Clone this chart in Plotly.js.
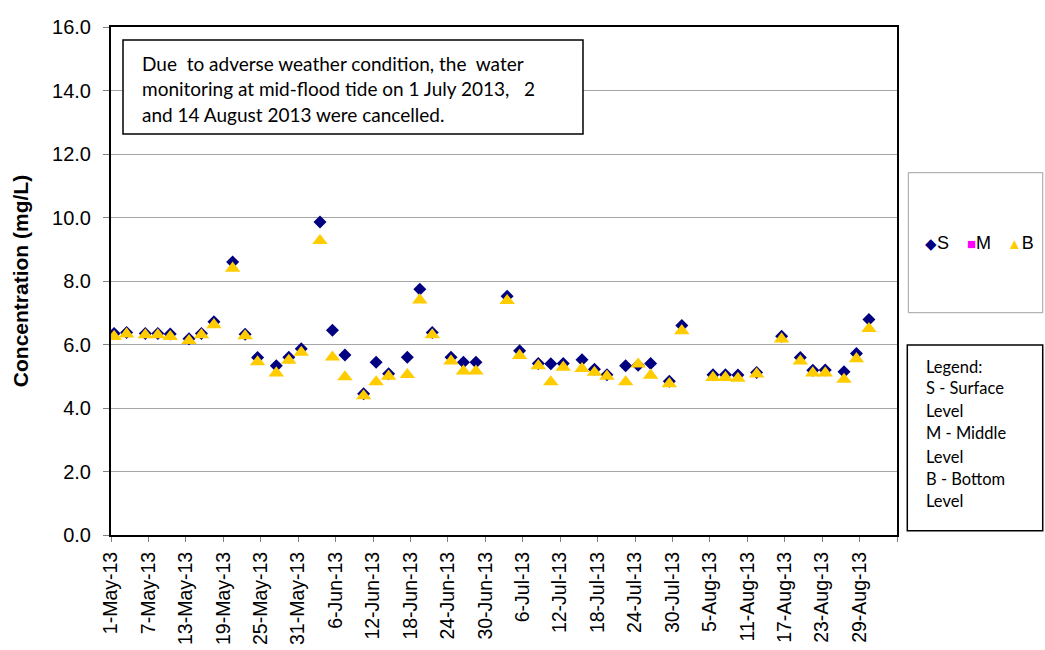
<!DOCTYPE html>
<html>
<head>
<meta charset="utf-8">
<script src="https://cdn.plot.ly/plotly-3.0.1.min.js"></script>
<style>html,body{margin:0;padding:0;background:#fff;}#chart{width:1045px;height:650px;}</style>
</head>
<body>
<div id="chart"></div>
<script>
// Sampling dates (mid-flood tide)
const dates = [
  '2013-05-01','2013-05-03','2013-05-06','2013-05-08','2013-05-10','2013-05-13','2013-05-15','2013-05-17',
  '2013-05-20','2013-05-22','2013-05-24','2013-05-27','2013-05-29','2013-05-31','2013-06-03','2013-06-05',
  '2013-06-07','2013-06-10','2013-06-12','2013-06-14','2013-06-17','2013-06-19','2013-06-21','2013-06-24',
  '2013-06-26','2013-06-28','2013-07-03','2013-07-05','2013-07-08','2013-07-10','2013-07-12','2013-07-15',
  '2013-07-17','2013-07-19','2013-07-22','2013-07-24','2013-07-26','2013-07-29','2013-07-31','2013-08-05',
  '2013-08-07','2013-08-09','2013-08-12','2013-08-16','2013-08-19','2013-08-21','2013-08-23','2013-08-26',
  '2013-08-28','2013-08-30'
];
// S - Surface level
const surface = [
  6.35, 6.38, 6.35, 6.35, 6.33, 6.18, 6.35, 6.72,
  8.60, 6.32, 5.59, 5.33, 5.60, 5.87, 9.86, 6.45,
  5.67, 4.45, 5.44, 5.08, 5.60, 7.74, 6.38, 5.60,
  5.44, 5.44, 7.52, 5.80, 5.40, 5.39, 5.40, 5.52,
  5.22, 5.05, 5.33, 5.35, 5.40, 4.84, 6.60, 5.05,
  5.05, 5.04, 5.12, 6.26, 5.59, 5.19, 5.20, 5.14,
  5.72, 6.79
];
// M - Middle level (no data)
const middle = [];
// B - Bottom level
const bottom = [
  6.25, 6.33, 6.30, 6.30, 6.25, 6.12, 6.30, 6.62,
  8.40, 6.27, 5.45, 5.10, 5.50, 5.75, 9.27, 5.60,
  4.98, 4.38, 4.82, 5.00, 5.05, 7.40, 6.30, 5.48,
  5.16, 5.16, 7.38, 5.65, 5.33, 4.82, 5.28, 5.24,
  5.12, 5.00, 4.82, 5.38, 5.03, 4.76, 6.43, 4.96,
  4.96, 4.93, 5.07, 6.17, 5.48, 5.10, 5.10, 4.90,
  5.55, 6.50
];
// x-axis ticks
const tickDates = [
  '2013-05-01','2013-05-07','2013-05-13','2013-05-19','2013-05-25','2013-05-31','2013-06-06','2013-06-12',
  '2013-06-18','2013-06-24','2013-06-30','2013-07-06','2013-07-12','2013-07-18','2013-07-24','2013-07-30',
  '2013-08-05','2013-08-11','2013-08-17','2013-08-23','2013-08-29','2013-09-04'
];
const tickLabels = [
  '1-May-13','7-May-13','13-May-13','19-May-13','25-May-13','31-May-13','6-Jun-13','12-Jun-13',
  '18-Jun-13','24-Jun-13','30-Jun-13','6-Jul-13','12-Jul-13','18-Jul-13','24-Jul-13','30-Jul-13',
  '5-Aug-13','11-Aug-13','17-Aug-13','23-Aug-13','29-Aug-13',''
];
const noteLines = [
  'Due  to adverse weather condition, the  water',
  'monitoring at mid-flood tide on 1 July 2013,   2',
  'and 14 August 2013 were cancelled.'
];
const legendLines = ['Legend:','S - Surface','Level','M - Middle','Level','B - Bottom','Level'];

const mid = d => d + 'T12:00:00';
const AR = 'Arial, "Liberation Sans", sans-serif';
const CAL = 'Lato, "Open Sans", sans-serif';

const traces = [
  {x: dates.map(mid), y: surface, name: 'S', type: 'scatter', mode: 'markers',
   marker: {symbol: 'diamond', size: 10, color: '#000080'}, showlegend: false},
  {x: middle.map(mid), y: middle, name: 'M', type: 'scatter', mode: 'markers',
   marker: {symbol: 'square', size: 9, color: '#FF00FF'}, showlegend: false},
  {x: dates.map(mid), y: bottom, name: 'B', type: 'scatter', mode: 'markers',
   marker: {symbol: 'triangle-up', size: 13.5, color: '#FFCC00'}, showlegend: false}
];

const annotations = [];
const noteY = [0.9291, 0.878, 0.8268];
noteLines.forEach((t, i) => annotations.push({
  xref: 'paper', yref: 'paper', x: 0.0369, y: noteY[i], xanchor: 'left', yanchor: 'middle',
  text: t, showarrow: false, font: {family: CAL, size: 19, color: '#000'}
}));
const legY = [0.3313, 0.29, 0.2447, 0.2002, 0.1541, 0.1108, 0.0675];
legendLines.forEach((t, i) => annotations.push({
  xref: 'paper', yref: 'paper', x: 1.0344, y: legY[i], xanchor: 'left', yanchor: 'middle',
  text: t, showarrow: false, font: {family: CAL, size: 16.5, color: '#000'}
}));
const items = [
  {g: '◆', c: '#000080', t: 'S', x: 1.0503},
  {g: '■', c: '#FF00FF', t: 'M', x: 1.1037},
  {g: '▲', c: '#FFCC00', t: 'B', x: 1.1571}
];
items.forEach(it => annotations.push({
  xref: 'paper', yref: 'paper', x: it.x, y: 0.5754, xanchor: 'center', yanchor: 'middle',
  text: '<span style="color:' + it.c + ';font-size:15px">' + it.g + '</span>' + it.t,
  showarrow: false, font: {family: AR, size: 18, color: '#000'}
}));

const layout = {
  width: 1045, height: 650,
  margin: {l: 111, r: 148, t: 27, b: 115, pad: 0},
  paper_bgcolor: '#fff', plot_bgcolor: '#fff',
  showlegend: false,
  xaxis: {
    type: 'date', range: ['2013-05-01', '2013-09-04'],
    tickmode: 'array', tickvals: tickDates, ticktext: tickLabels,
    tickangle: -90, ticks: 'outside', ticklen: 5, tickcolor: '#808080', tickwidth: 1,
    ticklabelstandoff: 2,
    tickfont: {family: AR, size: 19.5, color: '#000'},
    showline: true, linecolor: '#000', linewidth: 2, mirror: true,
    showgrid: false, zeroline: false, automargin: false
  },
  yaxis: {
    range: [0, 16], tick0: 0, dtick: 2, tickformat: '.1f',
    ticks: 'outside', ticklen: 6, tickcolor: '#808080', tickwidth: 1,
    ticklabelstandoff: 8,
    tickfont: {family: AR, size: 20, color: '#000'},
    showline: true, linecolor: '#000', linewidth: 2, mirror: true,
    showgrid: true, gridcolor: '#a6a6a6', gridwidth: 1, zeroline: false,
    automargin: false,
    title: {text: 'Concentration (mg/L)', standoff: 18,
            font: {family: AR, size: 21, color: '#000', weight: 'bold'}}
  },
  shapes: [
    {type: 'rect', xref: 'paper', yref: 'paper', x0: 0.01527, x1: 0.6005, y0: 0.7894, y1: 0.9744,
     line: {color: '#000', width: 1.5}, fillcolor: '#fff', layer: 'above'},
    {type: 'rect', xref: 'paper', yref: 'paper', x0: 1.0144, x1: 1.1854, y0: 0.4376, y1: 0.7132,
     line: {color: '#a0a0a0', width: 1}, fillcolor: '#fff', layer: 'above'},
    {type: 'rect', xref: 'paper', yref: 'paper', x0: 1.0131, x1: 1.1854, y0: 0.0085, y1: 0.374,
     line: {color: '#000', width: 1.5}, fillcolor: '#fff', layer: 'above'}
  ],
  annotations: annotations
};

Plotly.newPlot('chart', traces, layout, {displayModeBar: false, staticPlot: true});
</script>
</body>
</html>
